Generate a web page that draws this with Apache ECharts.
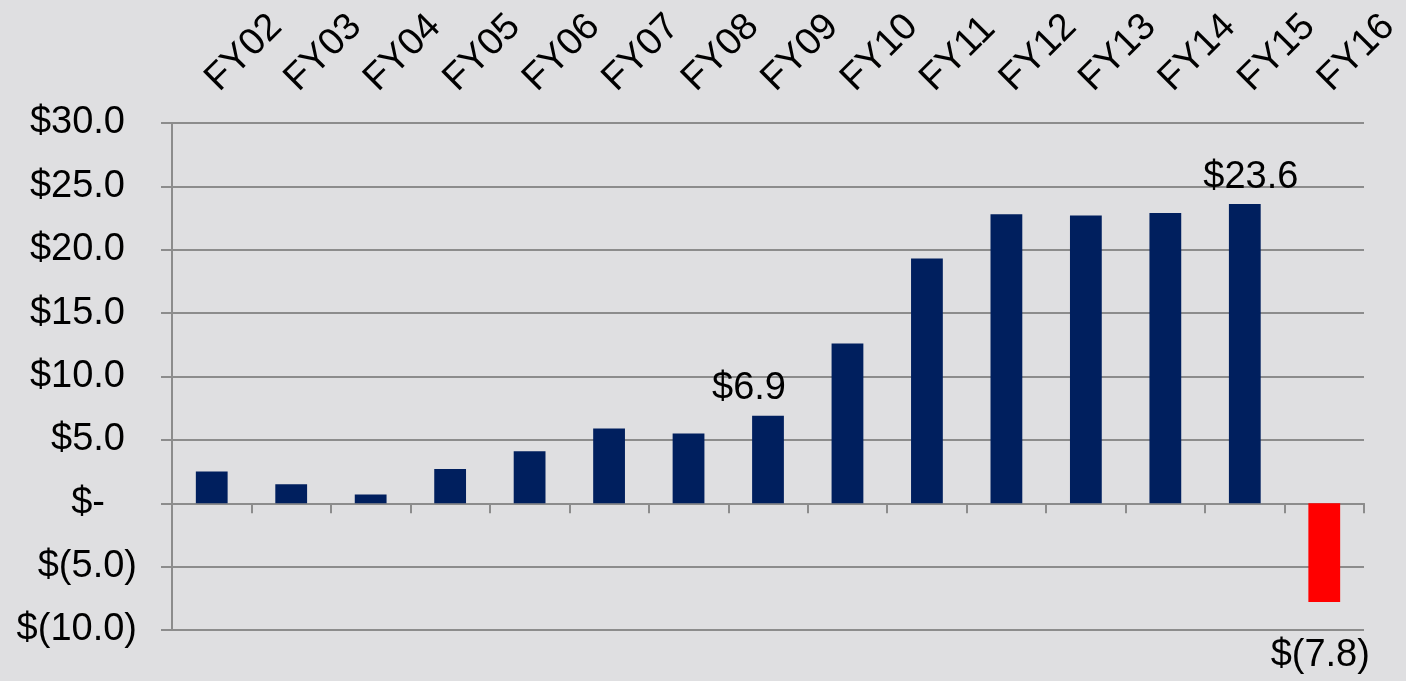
<!DOCTYPE html>
<html>
<head>
<meta charset="utf-8">
<script src="https://cdn.jsdelivr.net/npm/echarts@6/dist/echarts.min.js"></script>
<style>
html,body{margin:0;padding:0;background:#dfdfe1;}
#chart{width:1406px;height:681px;}
</style>
</head>
<body>
<div id="chart"></div>
<script>
var categories = ['FY02','FY03','FY04','FY05','FY06','FY07','FY08','FY09','FY10','FY11','FY12','FY13','FY14','FY15','FY16'];
var values = [2.5, 1.5, 0.7, 2.7, 4.1, 5.9, 5.5, 6.9, 12.6, 19.3, 22.8, 22.7, 22.9, 23.6, -7.8];
var labeledCategories = ['FY09', 'FY15', 'FY16'];
var labelShifts = [-19, 6, -4];
var yTicks = { min: -10, max: 30, interval: 5 };

var FONT = "'Liberation Sans', Arial, sans-serif";
var FS = 38;
var NAVY = '#001f5e';
var RED = '#ff0000';
var GRAY = '#8c8c8c';

function money(v) {
  if (v > 0) return '$' + v.toFixed(1);
  if (v < 0) return '$(' + Math.abs(v).toFixed(1) + ')';
  return '$-';
}

var seriesData = values.map(function (v, i) {
  var item = { value: v, itemStyle: { color: v < 0 ? RED : NAVY } };
  var k = labeledCategories.indexOf(categories[i]);
  if (k >= 0) {
    item.label = v < 0
      ? { show: true, position: 'bottom', distance: 34, offset: [labelShifts[k], 0] }
      : { show: true, position: 'top', distance: 8, offset: [labelShifts[k], 0] };
  }
  return item;
});

var chart = echarts.init(document.getElementById('chart'), null, { renderer: 'canvas' });
chart.setOption({
  backgroundColor: '#dfdfe1',
  animation: false,
  grid: { left: 172, right: 42, top: 123, bottom: 51, containLabel: false },
  xAxis: [
    {
      type: 'category',
      data: categories,
      position: 'top',
      axisLine: { show: false, onZero: false },
      axisTick: { show: false },
      splitLine: { show: false },
      axisLabel: {
        rotate: -45,
        margin: 38,
        fontSize: FS,
        fontFamily: FONT,
        color: '#000'
      }
    },
    {
      type: 'category',
      data: categories,
      position: 'bottom',
      axisLine: { show: true, onZero: true, lineStyle: { color: GRAY, width: 2 } },
      axisTick: { show: true, length: 10, lineStyle: { color: GRAY, width: 2 } },
      axisLabel: { show: false },
      splitLine: { show: false }
    }
  ],
  yAxis: {
    type: 'value',
    min: yTicks.min,
    max: yTicks.max,
    interval: yTicks.interval,
    axisLine: { show: true, lineStyle: { color: GRAY, width: 2 } },
    axisTick: { show: true, length: 11, lineStyle: { color: GRAY, width: 2 } },
    splitLine: { show: true, lineStyle: { color: GRAY, width: 2 } },
    axisLabel: {
      margin: 35,
      fontSize: FS,
      fontFamily: FONT,
      color: '#000',
      formatter: function (v) {
        if (v > 0) return '{p|' + money(v) + '}';
        if (v === 0) return '{z|' + money(v) + '}';
        return '{n|' + money(v) + '}';
      },
      rich: {
        p: { fontSize: FS, fontFamily: FONT, color: '#000', padding: [0, 12, 0, 0] },
        z: { fontSize: FS, fontFamily: FONT, color: '#000', padding: [0, 32, 0, 0] },
        n: { fontSize: FS, fontFamily: FONT, color: '#000' }
      }
    }
  },
  series: [{
    type: 'bar',
    xAxisIndex: 0,
    barWidth: '40%',
    data: seriesData,
    label: {
      show: false,
      fontSize: FS,
      fontFamily: FONT,
      color: '#000',
      formatter: function (p) { return money(p.value); }
    }
  }]
});
</script>
</body>
</html>
